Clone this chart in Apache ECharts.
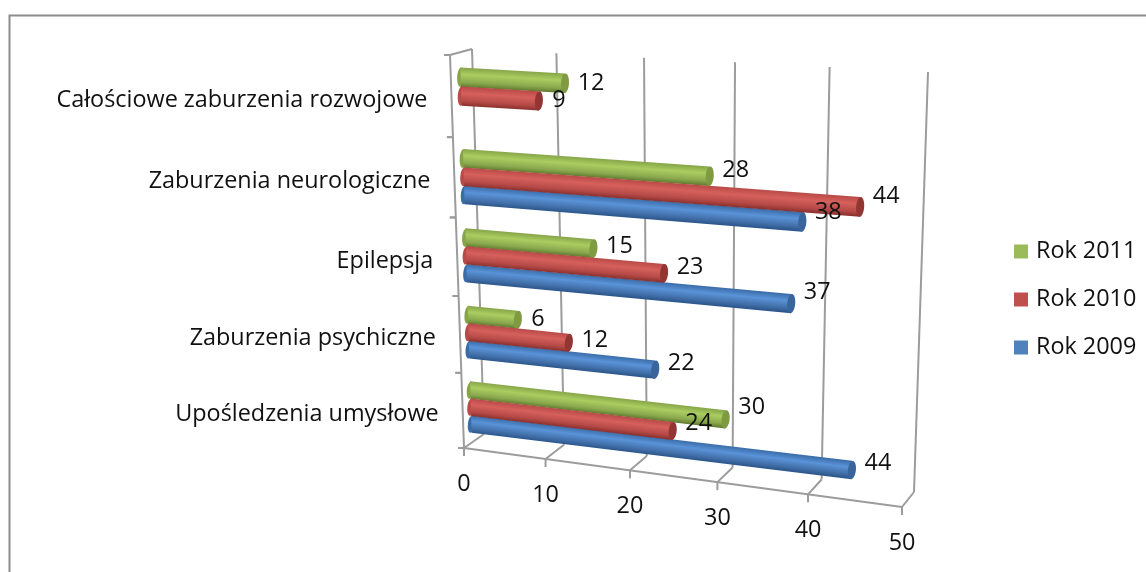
<!DOCTYPE html>
<html><head><meta charset="utf-8">
<style>html,body{margin:0;padding:0;background:#fff}#c{width:1146px;height:572px}</style>
<script src="https://cdn.jsdelivr.net/npm/echarts@6/dist/echarts.min.js"></script>
</head><body><div id="c"></div>
<script>
const categories = ['Upośledzenia umysłowe','Zaburzenia psychiczne','Epilepsja','Zaburzenia neurologiczne','Całościowe zaburzenia rozwojowe'];
const rok2009 = [44,22,37,38,null];
const rok2010 = [24,12,23,44,9];
const rok2011 = [30,6,15,28,12];
const valueTicks = [0,10,20,30,40,50];

// layout: projection planes (corners at [u0v0, u1v0, u1v1, u0v1]) of the 3D look
const frontPlane = [[464,448],[902,507],[914,79],[450,55]];
const backPlane  = [[484,434],[914,492],[928,72],[472,49]];
const barPlane   = [[472,444],[907,498],[924,80],[460,55]];
// layout: how far each value label sits above its bar end
const liftFor = {'Rok 2009':[7,6,11,10,0],'Rok 2010':[8,2,6,11,1],'Rok 2011':[12,0,2,6,0]};
const FONT = '23.4px "Open Sans", sans-serif';
const INK = '#111';
const LINE = '#9c9c9c';

function homography(q){
  const [[x0,y0],[x1,y1],[x2,y2],[x3,y3]] = q;
  const dx1=x1-x2,dx2=x3-x2,sx=x0-x1+x2-x3,dy1=y1-y2,dy2=y3-y2,sy=y0-y1+y2-y3;
  const den=dx1*dy2-dx2*dy1, g=(sx*dy2-dx2*sy)/den, h=(dx1*sy-sx*dy1)/den;
  const a=x1-x0+g*x1,b=x3-x0+h*x3,d=y1-y0+g*y1,e=y3-y0+h*y3;
  return (u,v)=>{const w=g*u+h*v+1;return [(a*u+b*v+x0)/w,(d*u+e*v+y0)/w];};
}
const front=homography(frontPlane), back=homography(backPlane), bar=homography(barPlane);

function norm(params,pt){
  const r=params.coordSys;
  return [(pt[0]-r.x)/r.width,(r.y+r.height-pt[1])/r.height];
}
function line(a,b,w){
  return {type:'line',shape:{x1:a[0],y1:a[1],x2:b[0],y2:b[1]},style:{stroke:LINE,lineWidth:w||2,fill:null}};
}
function renderValueTick(params,api){
  const [u]=norm(params,api.coord([api.value(0),0]));
  const f0=front(u,0), b0=back(u,0), b1=back(u,1);
  const kids=[line(f0,b0),line(b0,b1),line(f0,[f0[0],f0[1]+8])];
  kids.push({type:'text',style:{x:f0[0],y:f0[1]+36,text:String(api.value(0)),font:FONT,fill:INK,align:'center',verticalAlign:'middle'}});
  if(u===0){
    const top=front(0,1), end=front(1,0);
    kids.push(line(f0,top),line(top,b1),line(f0,end));
  }
  return {type:'group',children:kids};
}
function renderCategoryTick(params,api){
  const i=api.value(0);
  const [,v]=norm(params,api.coord([0,i]));
  const hb=api.size([0,1])[1]/params.coordSys.height/2;
  const lo=front(0,v-hb), hi=front(0,v+hb), mid=front(0,v);
  const kids=[line(lo,[lo[0]-6,lo[1]]),line(hi,[hi[0]-6,hi[1]])];
  kids.push({type:'text',style:{x:mid[0]-24,y:mid[1]+4,text:categories[i],font:FONT,fill:INK,align:'right',verticalAlign:'middle'}});
  return {type:'group',children:kids};
}
function barRenderer(slot,stops,capColor){
  return function(params,api){
    const val=api.value(0), i=api.value(1);
    if(val==null||isNaN(val)) return null;
    const band=api.size([0,1])[1]/params.coordSys.height;
    const [,v0]=norm(params,api.coord([0,i]));
    const [u]=norm(params,api.coord([val,i]));
    const v=v0+slot*band, th=0.0235;
    const s=bar(0,v), e=bar(u,v);
    const st=bar(0,v+th), sb=bar(0,v-th), et=bar(u,v+th), eb=bar(u,v-th);
    const ang=Math.atan2(e[1]-s[1],e[0]-s[0]);
    const mx=(s[0]+e[0])/2,my=(s[1]+e[1])/2,hw=(Math.hypot(st[0]-sb[0],st[1]-sb[1])+Math.hypot(et[0]-eb[0],et[1]-eb[1]))/4;
    const nx=-Math.sin(ang),ny=Math.cos(ang);
    const grad=new echarts.graphic.LinearGradient(mx-nx*hw,my-ny*hw,mx+nx*hw,my+ny*hw,stops,true);
    const capH=Math.hypot(et[0]-eb[0],et[1]-eb[1])/2, startH=Math.hypot(st[0]-sb[0],st[1]-sb[1])/2;
    const lift=liftFor[params.seriesName][i];
    const label=String(val);
    const dx=label.length>1?26:20;
    return {type:'group',children:[
      {type:'ellipse',x:s[0],y:s[1],rotation:-ang,shape:{cx:0,cy:0,rx:3.5,ry:startH},style:{fill:grad}},
      {type:'polygon',shape:{points:[st,et,eb,sb]},style:{fill:grad}},
      {type:'ellipse',x:e[0],y:e[1],rotation:-ang,shape:{cx:0,cy:0,rx:4,ry:capH},style:{fill:capColor}},
      {type:'text',z2:100,style:{x:e[0]+dx,y:e[1]-lift,text:label,font:FONT,fill:INK,align:'center',verticalAlign:'middle'}}
    ]};
  };
}
function barData(values){return values.map((x,i)=>[x,i]);}
const chart=echarts.init(document.getElementById('c'),null,{renderer:'canvas'});
chart.setOption({
  animation:false,
  backgroundColor:'#fff',
  grid:{left:464,top:55,width:450,height:390,show:false},
  xAxis:{type:'value',min:0,max:50,interval:10,show:false},
  yAxis:{type:'category',data:categories,show:false},
  legend:{orient:'vertical',left:1009,top:233,itemWidth:14,itemHeight:14,itemGap:21,icon:'rect',
    data:['Rok 2011','Rok 2010','Rok 2009'],textStyle:{fontFamily:'Open Sans',fontSize:23.4,color:INK,padding:[0,0,0,3],lineHeight:27},selectedMode:false},
  graphic:[{type:'rect',silent:true,shape:{x:9.5,y:15.5,width:1300,height:800},style:{fill:null,stroke:'#8c8c8c',lineWidth:2}}],
  series:[
    {type:'custom',name:'axis-value',silent:true,renderItem:renderValueTick,data:valueTicks.map(t=>[t]),encode:{x:0},clip:false},
    {type:'custom',name:'axis-category',silent:true,renderItem:renderCategoryTick,data:categories.map((c,i)=>[i]),encode:{y:0},clip:false},
    {type:'custom',name:'Rok 2009',itemStyle:{color:'#4f81bd'},clip:false,encode:{x:0,y:1},data:barData(rok2009),
      renderItem:barRenderer(-0.23,[{offset:0,color:'#3a6ca8'},{offset:.35,color:'#5a93d8'},{offset:.75,color:'#426fa8'},{offset:1,color:'#2a558a'}],'#3a659c')},
    {type:'custom',name:'Rok 2011',itemStyle:{color:'#9bbb59'},clip:false,encode:{x:0,y:1},data:barData(rok2011),
      renderItem:barRenderer(0.23,[{offset:0,color:'#86a548'},{offset:.35,color:'#aacd60'},{offset:.75,color:'#8aa84e'},{offset:1,color:'#5f7a2e'}],'#7f9b42')},
    {type:'custom',name:'Rok 2010',itemStyle:{color:'#c0504d'},clip:false,encode:{x:0,y:1},data:barData(rok2010),
      renderItem:barRenderer(0,[{offset:0,color:'#b84a47'},{offset:.35,color:'#d6605c'},{offset:.75,color:'#b54a47'},{offset:1,color:'#8a302e'}],'#933633')}
  ]
});
</script></body></html>
